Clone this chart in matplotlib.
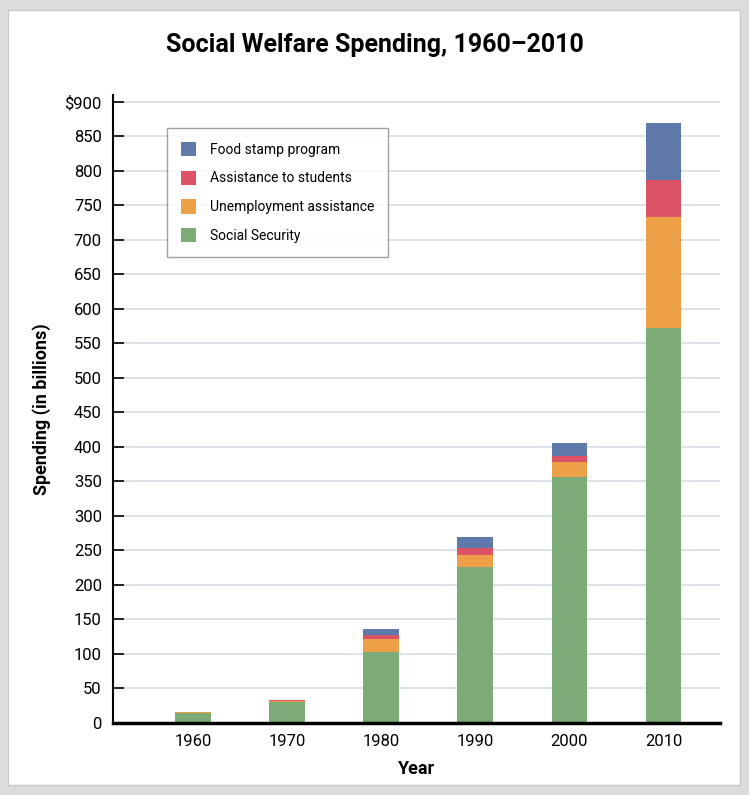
import numpy as np
import matplotlib.pyplot as plt
from matplotlib.patches import Rectangle

years = ['1960', '1970', '1980', '1990', '2000', '2010']
social_security = [15, 31, 103, 226, 357, 573]
unemployment = [1, 1, 19, 17, 21, 160]
students = [0.5, 1, 6, 11, 9, 54]
food_stamps = [0, 0.5, 8, 16, 19, 83]

series = [
    ('Social Security', social_security, '#7dab78'),
    ('Unemployment assistance', unemployment, '#eea048'),
    ('Assistance to students', students, '#db5364'),
    ('Food stamp program', food_stamps, '#6079ab'),
]

plt.rcParams['font.family'] = ['Roboto', 'DejaVu Sans']

fig = plt.figure(figsize=(7.49, 7.95), dpi=100, facecolor='#dcdcdc')
fig.patches.append(Rectangle((8 / 749, 10 / 795), 732 / 749, 775 / 795,
                             transform=fig.transFigure, facecolor='white',
                             edgecolor='#c8c8c8', lw=1, zorder=-10))

ax = fig.add_axes([113 / 749, (795 - 723) / 795, (720 - 113) / 749, 628 / 795])
ax.set_facecolor('none')

x = np.arange(len(years))
bottom = np.zeros(len(years))
handles = []
for name, vals, color in series:
    b = ax.bar(x, vals, width=0.38, bottom=bottom, color=color, label=name,
               zorder=3)
    handles.append(b)
    bottom += np.array(vals)

ax.set_xlim(-0.85, 5.6)
ax.set_ylim(0, 910)
yt = np.arange(0, 901, 50)
ax.set_yticks(yt)
ax.set_yticklabels(['$900' if v == 900 else str(v) for v in yt], fontsize=12)
ax.set_xticks(x)
ax.set_xticklabels(years, fontsize=12)
ax.tick_params(axis='y', direction='in', length=8, width=1.2, pad=8)
ax.tick_params(axis='x', length=0, pad=8)

for v in yt[1:]:
    ax.axhline(v, color='#d3dae4', lw=1.1, zorder=1)

for s in ['top', 'right']:
    ax.spines[s].set_visible(False)
ax.spines['left'].set_linewidth(1.5)
ax.spines['bottom'].set_linewidth(2.5)
ax.spines['left'].set_zorder(4)
ax.spines['bottom'].set_zorder(4)

ax.set_xlabel('Year', fontsize=13, fontweight='bold', labelpad=8)
ax.set_ylabel('Spending (in billions)', fontsize=13, fontweight='bold', labelpad=10)

fig.text(0.5, 1 - 45 / 795, 'Social Welfare Spending, 1960\u20132010',
         ha='center', va='center', fontsize=18, fontweight='bold')

leg = ax.legend(handles[::-1], [s[0] for s in series][::-1],
                loc='upper left', bbox_to_anchor=(54 / 607, 1 - (128 - 95) / 628),
                borderaxespad=0, fontsize=10, frameon=True, fancybox=False,
                edgecolor='#8a8a8a', handlelength=1.1, handleheight=1.2,
                labelspacing=1.0, borderpad=1.0, handletextpad=1.0)
leg.get_frame().set_linewidth(1)

fig.savefig('out.png', dpi=100, facecolor=fig.get_facecolor())
